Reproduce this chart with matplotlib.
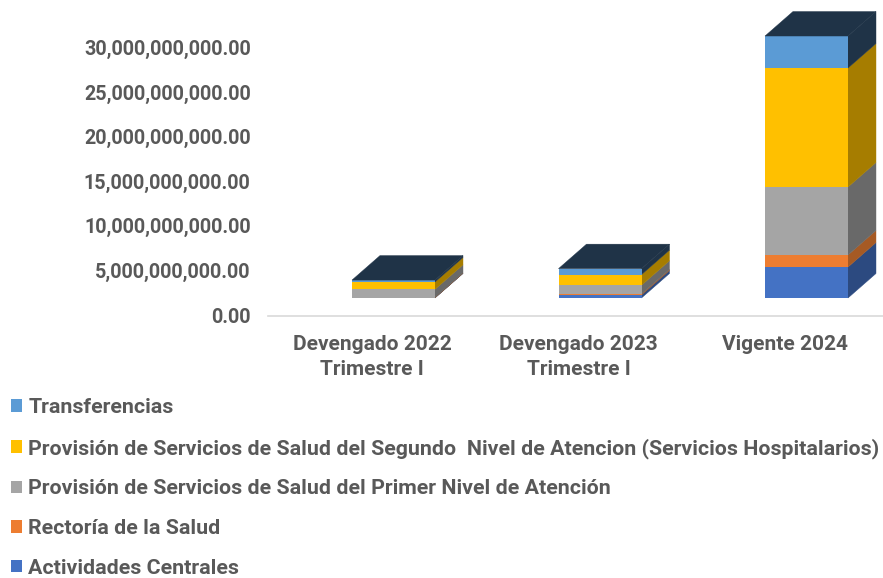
import matplotlib
matplotlib.use("Agg")
import matplotlib.pyplot as plt
from matplotlib.transforms import ScaledTranslation
import numpy as np

plt.rcParams['font.family'] = ['Roboto', 'DejaVu Sans']

# categorias y valores (miles de millones)
categorias = ["Devengado 2022\nTrimestre I", "Devengado 2023\nTrimestre I", "Vigente 2024"]
actividades = [0.03, 0.34, 3.47]
rectoria = [0.02, 0.11, 1.35]
primer_nivel = [0.92, 0.98, 7.62]
segundo_nivel = [0.82, 1.19, 13.34]
transferencias = [0.22, 0.67, 3.59]

nombres = ["Actividades Centrales", "Rectoría de la Salud",
           "Provisión de Servicios de Salud del Primer Nivel de Atención",
           "Provisión de Servicios de Salud del Segundo  Nivel de Atencion (Servicios Hospitalarios)",
           "Transferencias"]
series = [actividades, rectoria, primer_nivel, segundo_nivel, transferencias]
colores = ["#4472C4", "#ED7D31", "#A5A5A5", "#FFC000", "#5B9BD5"]
laterales = ["#2C4A80", "#A65A24", "#696969", "#A67D00", "#1F3347"]
color_tapa = "#1F3347"
ticks = np.arange(0, 31, 5)
texto = "#595959"

W, H = 883, 578
fig = plt.figure(figsize=(W / 100, H / 100), dpi=100)
# ejes alineados con el piso del grafico (y=316 px)
ax = fig.add_axes([268 / W, 1 - 316 / H, (W - 268) / W, 316 / H])

px_cat = 206.5   # px por categoria
px_val = 8.92    # px por mil millones
ax.set_xlim(-(372 - 268) / px_cat, (W - 372) / px_cat)
ax.set_ylim(0, 316 / px_val)

ancho = 83 / px_cat
# desplazamiento de la cara frontal respecto al piso, y profundidad 3D
off_x, off_y = 21.5 / px_cat, 18 / px_val
prof_x, prof_y = 28 / px_cat, 24.5 / px_val

x = np.arange(len(categorias))
base = np.zeros(len(categorias))
handles = []
for vals, nombre, c, lat in zip(series, nombres, colores, laterales):
    vals = np.array(vals)
    izq = x + off_x - ancho / 2
    der = izq + ancho
    b = base + off_y
    t = b + vals
    for i in range(len(x)):
        ax.fill([der[i], der[i] + prof_x, der[i] + prof_x, der[i]],
                [b[i], b[i] + prof_y, t[i] + prof_y, t[i]],
                facecolor=lat, edgecolor=lat, lw=0.3, zorder=2)
    barras = ax.bar(x + off_x, vals, ancho, bottom=b, color=c, label=nombre, zorder=3)
    handles.append(barras)
    base = base + vals

# tapa superior
for i in range(len(x)):
    izq = x[i] + off_x - ancho / 2
    t = base[i] + off_y
    ax.fill([izq, izq + ancho, izq + ancho + prof_x, izq + prof_x],
            [t, t, t + prof_y, t + prof_y], facecolor=color_tapa, edgecolor=color_tapa, lw=0.3, zorder=4)

for s in ["top", "left", "right"]:
    ax.spines[s].set_visible(False)
ax.spines["bottom"].set_color("#D9D9D9")
ax.spines["bottom"].set_linewidth(1.2)
ax.set_xticks(x)
ax.set_xticklabels(categorias, fontsize=15, fontweight="bold", color=texto, linespacing=1.4)
ax.set_yticks(ticks * 1.0)
ax.set_yticklabels([f"{v * 1e9:,.2f}" for v in ticks], fontsize=14.2, fontweight="bold", color=texto)
ax.tick_params(axis="both", length=0)
ax.tick_params(axis="y", pad=12.5)
ax.tick_params(axis="x", pad=14)

# etiquetas del eje y un poco mas arriba, como en el original
sube = ScaledTranslation(0, 1 / 100, fig.dpi_scale_trans)
for lab in ax.get_yticklabels():
    lab.set_transform(lab.get_transform() + sube)

leg = fig.legend(handles[::-1], nombres[::-1], loc="upper left", bbox_to_anchor=(9 / W, 1 - 396 / H),
                 frameon=False, fontsize=15.4, handlelength=0.5, handleheight=0.5, handletextpad=0.3,
                 labelspacing=0.97, borderpad=0.1, borderaxespad=0)
for t in leg.get_texts():
    t.set_color(texto)
    t.set_fontweight("bold")

fig.savefig("out.png", dpi=100)
